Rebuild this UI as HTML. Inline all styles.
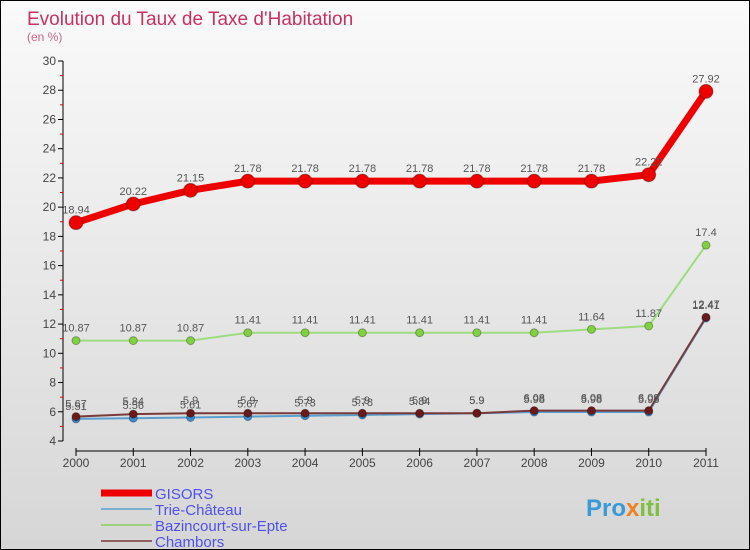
<!DOCTYPE html>
<html><head><meta charset="utf-8"><style>
body{margin:0;}
#c{width:750px;height:550px;box-sizing:border-box;border:1px solid #000;background:linear-gradient(#fafafa,#d6d6d6);position:relative;overflow:hidden;font-family:"Liberation Sans",sans-serif;}
</style></head><body>
<div id="c">
<svg id="s" width="750" height="550" style="position:absolute;left:0;top:0">
<text x="26" y="24" font-size="19" fill="#c8325f">Evolution du Taux de Taxe d'Habitation</text>
<text x="26" y="40" font-size="12" fill="#c8648a">(en %)</text>
<g id="g"></g>
<text x="585" y="515" font-size="24" font-weight="bold" fill="#3a9ad8">Pro<tspan fill="#f08020">x</tspan><tspan fill="#80c040">iti</tspan></text>
</svg>
</div>
<script>
const years=["2000","2001","2002","2003","2004","2005","2006","2007","2008","2009","2010","2011"];
const gisors=[18.94,20.22,21.15,21.78,21.78,21.78,21.78,21.78,21.78,21.78,22.22,27.92];
const trie=[5.51,5.56,5.61,5.67,5.73,5.78,5.84,5.9,5.98,5.98,5.98,12.41];
const bazin=[10.87,10.87,10.87,11.41,11.41,11.41,11.41,11.41,11.41,11.64,11.87,17.4];
const chambors=[5.67,5.84,5.9,5.9,5.9,5.9,5.9,5.9,6.08,6.08,6.08,12.47];
const yTicks=[4,6,8,10,12,14,16,18,20,22,24,26,28,30];
const legendNames=["GISORS","Trie-Château","Bazincourt-sur-Epte","Chambors"];
const NS="http://www.w3.org/2000/svg";
const g=document.getElementById('g');
const x=i=>75+i*(630/11);
const y=v=>440-(v-4)*(380/26);
function mk(t,a,p){const e=document.createElementNS(NS,t);for(const k in a)e.setAttribute(k,a[k]);(p||g).appendChild(e);return e;}
let e;
e=mk('line',{x1:62,y1:60,x2:62,y2:440,stroke:'#000'});


for(let v=5;v<30;v+=2){mk('line',{x1:59,x2:62,y1:y(v),y2:y(v),stroke:'#e00'});}
yTicks.forEach(v=>{mk('line',{x1:57,x2:62,y1:y(v),y2:y(v),stroke:'#000'});
e=mk('text',{x:55,y:y(v)+4,'font-size':12,'text-anchor':'end',fill:'#444'});e.textContent=v;

});
e=mk('line',{x1:75,y1:450,x2:705,y2:450,stroke:'#000'});


years.forEach((yr,i)=>{mk('line',{x1:x(i),x2:x(i),y1:447,y2:455,stroke:'#000'});
e=mk('text',{x:x(i),y:466,'font-size':12,'text-anchor':'middle',fill:'#444'});e.textContent=yr;

});
function series(d,col,w,r,fill,name,lab){
 e=mk('polyline',{points:d.map((v,i)=>x(i)+','+y(v)).join(' '),fill:'none',stroke:col,'stroke-width':w});
 
 
 d.forEach((v,i)=>{e=mk('circle',{cx:x(i),cy:y(v),r:r,fill:fill,stroke:'rgba(0,0,0,0.3)'});
 
 
 if(lab){const t=mk('text',{x:x(i),y:y(v)-9,'font-size':11,'text-anchor':'middle',fill:'#555'});t.textContent=v;
 
 }});
}
series(gisors,'#e00',7,7,'#e00','gisors',true);
series(bazin,'#9edc80',2,4,'#80d040','bazincourt',true);
series(trie,'#5a9fd0',2,4,'#3a8ad0','trie-chateau',true);
series(chambors,'#7a3a3a',2,4,'#6a1a1a','chambors',true);
const lc=[['#e00',7],['#7aaed0',2],['#9ed080',2],['#906060',2]];
legendNames.forEach((n,i)=>{const yy=492+i*16;
 e=mk('line',{x1:100,x2:151,y1:yy,y2:yy,stroke:lc[i][0],'stroke-width':lc[i][1]});
 
 
 e=mk('text',{x:154,y:yy+6,'font-size':15,fill:'#5050ee'});e.textContent=n;
 
 });
</script>
</body></html>
